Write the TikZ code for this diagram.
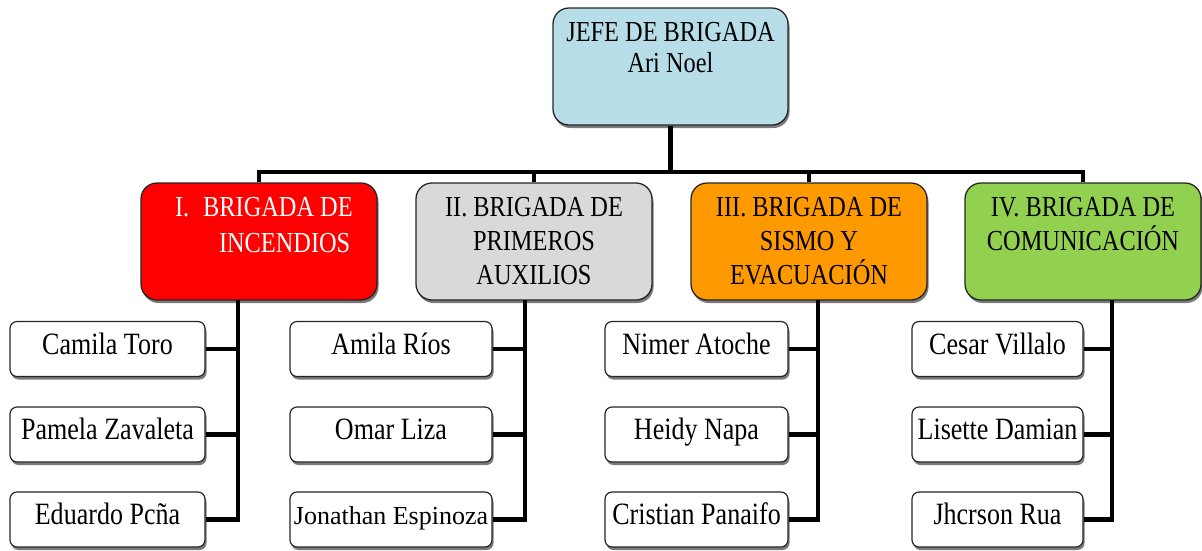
\documentclass[tikz,border=0pt]{standalone}
\usepackage{fontspec}
\setmainfont{Liberation Serif}[FakeStretch=0.84]
\newfontfamily\widefont{Liberation Serif}
\usetikzlibrary{shadows}
\definecolor{topblue}{HTML}{B7DEE8}
\definecolor{firered}{HTML}{FF0000}
\definecolor{aidgray}{HTML}{D9D9D9}
\definecolor{quakeorange}{HTML}{FF9900}
\definecolor{commgreen}{HTML}{92D050}
\definecolor{edgecol}{HTML}{262626}
\newcommand{\boxlines}[4]{\parbox[c][#2][t]{#1}{\vspace*{#3}#4}}
\tikzset{
  boxshadow/.style={drop shadow={shadow xshift=1.5pt, shadow yshift=-3pt, fill=black!65, opacity=0.8}},
  chief/.style={draw=edgecol, line width=1.3pt, rounded corners=16pt, inner sep=0pt, fill=topblue, boxshadow},
  brig/.style={draw=edgecol, line width=1.3pt, rounded corners=16pt, inner sep=0pt, boxshadow},
  person/.style={draw=edgecol, line width=1.2pt, rounded corners=7pt, fill=white, inner sep=0pt,
    minimum height=55pt, text height=20pt, text depth=10pt, font=\fontsize{31}{33}\selectfont, boxshadow},
  conn/.style={line width=4.5pt, black, line join=miter},
}
\begin{document}
\begin{tikzpicture}[x=1pt,y=1pt]
\useasboundingbox[fill=white] (0,0) rectangle (1202,-550);

% chief
\node[chief] (jefe) at (670.5,-66.5)
  {\boxlines{235pt}{117pt}{14pt}{\fontsize{29}{31}\selectfont\centering JEFE DE BRIGADA\\Ari Noel}};

% brigades
\node[brig, fill=firered] (b1) at (259,-241.5)
  {\boxlines{236pt}{117pt}{14pt}{\fontsize{29}{36}\selectfont\color{white}\raggedright\hspace*{34pt}I.\hspace{14pt}BRIGADA DE\\\hspace*{78pt}INCENDIOS}};
\node[brig, fill=aidgray] (b2) at (534,-241.5)
  {\boxlines{236pt}{117pt}{14pt}{\fontsize{29}{34}\selectfont\centering II. BRIGADA DE\\PRIMEROS\\AUXILIOS}};
\node[brig, fill=quakeorange] (b3) at (809,-241.5)
  {\boxlines{236pt}{117pt}{14pt}{\fontsize{29}{34}\selectfont\centering III. BRIGADA DE\\SISMO Y\\EVACUACIÓN}};
\node[brig, fill=commgreen] (b4) at (1083,-241.5)
  {\boxlines{236pt}{117pt}{14pt}{\fontsize{29}{34}\selectfont\centering IV. BRIGADA DE\\COMUNICACIÓN}};

% members column I
\node[person, minimum width=195pt] (p11) at (107.5,-349) {Camila Toro};
\node[person, minimum width=195pt] (p12) at (107.5,-434.5) {Pamela Zavaleta};
\node[person, minimum width=195pt] (p13) at (107.5,-519.5) {Eduardo Pcña};
% column II
\node[person, minimum width=202pt] (p21) at (391,-349) {Amila Ríos};
\node[person, minimum width=202pt] (p22) at (391,-434.5) {Omar Liza};
\node[person, minimum width=202pt] (p23) at (391,-519.5) {\widefont\fontsize{26}{28}\selectfont Jonathan Espinoza};
% column III
\node[person, minimum width=183pt] (p31) at (696.5,-349) {Nimer Atoche};
\node[person, minimum width=183pt] (p32) at (696.5,-434.5) {Heidy Napa};
\node[person, minimum width=183pt] (p33) at (696.5,-519.5) {Cristian Panaifo};
% column IV
\node[person, minimum width=171pt] (p41) at (997.5,-349) {Cesar Villalo};
\node[person, minimum width=171pt] (p42) at (997.5,-434.5) {Lisette Damian};
\node[person, minimum width=171pt] (p43) at (997.5,-519.5) {Jhcrson Rua};

% top connectors
\coordinate (bar) at (670.5,-172);
\draw[conn] (jefe.south) -- (bar);
\draw[conn] (b1.north) |- (bar);
\draw[conn] (b2.north) |- (bar);
\draw[conn] (b3.north) |- (bar);
\draw[conn] (b4.north) |- (bar);

% member connectors
\coordinate (v1) at (238,-300);
\coordinate (v2) at (525,-300);
\coordinate (v3) at (818,-300);
\coordinate (v4) at (1112,-300);
\draw[conn] (v1) |- (p13.east);
\draw[conn] (p11.east) -- (p11.east -| v1);
\draw[conn] (p12.east) -- (p12.east -| v1);
\draw[conn] (v2) |- (p23.east);
\draw[conn] (p21.east) -- (p21.east -| v2);
\draw[conn] (p22.east) -- (p22.east -| v2);
\draw[conn] (v3) |- (p33.east);
\draw[conn] (p31.east) -- (p31.east -| v3);
\draw[conn] (p32.east) -- (p32.east -| v3);
\draw[conn] (v4) |- (p43.east);
\draw[conn] (p41.east) -- (p41.east -| v4);
\draw[conn] (p42.east) -- (p42.east -| v4);
\end{tikzpicture}
\end{document}
